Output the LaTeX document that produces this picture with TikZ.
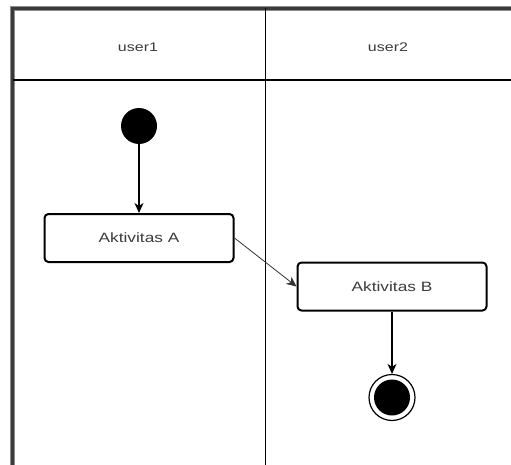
\documentclass[tikz,border=0pt]{standalone}
\usepackage{fontspec}
\setmainfont{Liberation Sans}
\usetikzlibrary{arrows.meta}
\definecolor{txt}{HTML}{3C3C3C}
\definecolor{frame}{HTML}{3A3A3A}
\tikzset{
  lanetitle/.style={text=txt,font=\fontsize{12.5}{14}\selectfont,inner sep=0pt},
  activity/.style={draw=black,line width=2pt,rounded corners=4pt,fill=white,minimum width=189pt,minimum height=48pt,text=txt,font=\fontsize{13.5}{15}\selectfont,inner sep=0pt},
  startstate/.style={circle,fill=black,minimum size=36pt,inner sep=0pt},
  endstate/.style={circle,draw=black,line width=1.2pt,fill=white,minimum size=46pt,inner sep=0pt,path picture={\fill[black] (path picture bounding box.center) circle (18pt);}},
  flow/.style={draw=black,line width=1.2pt,-{Stealth[length=10pt,width=9pt,inset=3pt]}},
  thinflow/.style={draw=black!80,line width=0.8pt,-{Stealth[length=10pt,width=9pt,inset=3pt]}}
}
\begin{document}
\begin{tikzpicture}[x=1pt,y=-1pt]
\useasboundingbox (0,0) rectangle (511,465);
\fill[white] (0,0) rectangle (511,465);
% frame
\draw[black!45,line width=5pt] (12.5,465) -- (12.5,8.5) -- (511,8.5);
\draw[frame,line width=2.5pt] (12.5,465) -- (12.5,8.5) -- (511,8.5);
\draw[black,line width=1.6pt] (12.5,80) -- (511,80);
\draw[black,line width=1.6pt] (265.5,8.5) -- (265.5,465);
% lane titles
\node[lanetitle] (u1) at (138,47) {\scalebox{1.28}[1]{user1}};
\node[lanetitle] (u2) at (388,47) {\scalebox{1.28}[1]{user2}};
% nodes
\node[startstate] (s) at (139,126) {};
\node[activity] (a) at (139,238) {\scalebox{1.28}[1]{Aktivitas A}};
\node[activity] (b) at (392,286.5) {\scalebox{1.28}[1]{Aktivitas B}};
\node[endstate] (e) at (392,397.5) {};
% connectors
\draw[flow] (s) -- (a.north);
\draw[thinflow] (a.east) -- (b.west);
\draw[flow] (b.south) -- (e.north);
\end{tikzpicture}
\end{document}
